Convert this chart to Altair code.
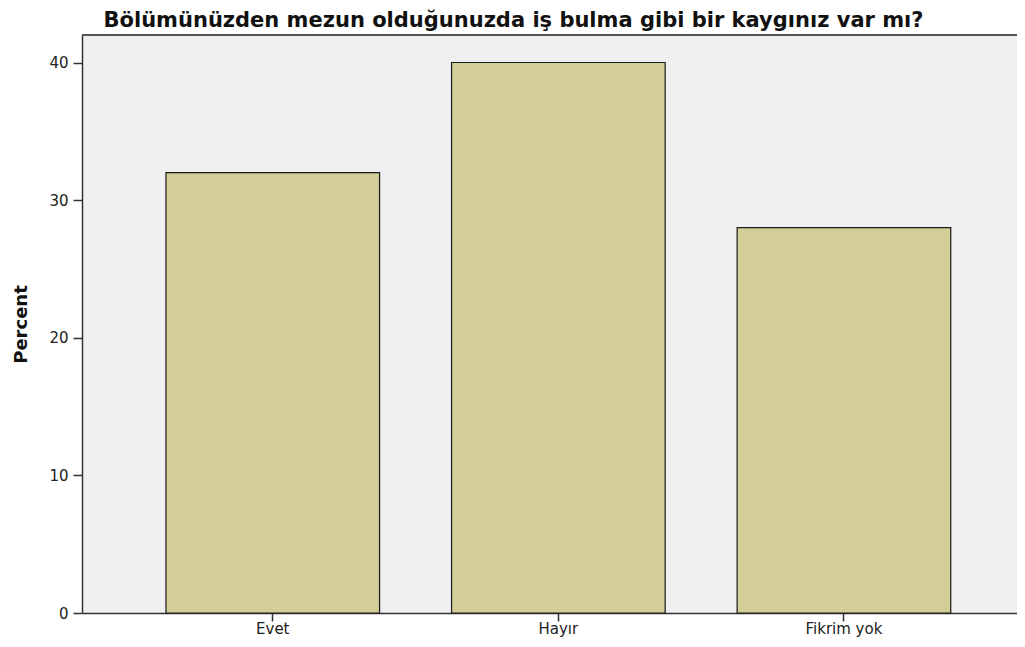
import altair as alt
import pandas as pd

categories = ["Evet", "Hayır", "Fikrim yok"]
percents = [32, 40, 28]
y_ticks = [0, 10, 20, 30, 40]

df = pd.DataFrame({"cat": categories, "pct": percents})

W = 935
H = 578

base = alt.Chart(df)

bars = base.mark_bar(
    color="#D3CE97", stroke="#1a1a1a", strokeWidth=1.2
).encode(
    x=alt.X(
        "cat:N",
        sort=categories,
        scale=alt.Scale(range=[0, 952.7], paddingInner=0.252, paddingOuter=0.294),
        axis=alt.Axis(
            title=None, labelAngle=0, labelFont="DejaVu Sans", labelFontSize=15,
            labelColor="#222222", tickColor="#333333", tickSize=8, tickWidth=1.5,
            domainColor="#333333", domainWidth=1.5, labelPadding=0,
        ),
    ),
    y=alt.Y(
        "pct:Q",
        scale=alt.Scale(domain=[0, 42], nice=False),
        axis=alt.Axis(
            title="Percent", values=y_ticks, grid=False,
            labelFont="DejaVu Sans", labelFontSize=15, labelColor="#222222",
            tickColor="#333333", tickSize=9, tickWidth=1.5,
            domainColor="#333333", domainWidth=1.5, labelPadding=5,
            titleFont="DejaVu Sans", titleFontSize=18, titleFontWeight="bold",
            titleColor="#111111", titlePadding=18,
        ),
    ),
)

top_border = base.mark_rule(color="#555555", strokeWidth=2).encode(
    x=alt.value(0), x2=alt.value(W), y=alt.value(0)
)

chart = alt.layer(bars, top_border).properties(
    width=W,
    height=H,
    autosize=alt.AutoSizeParams(type="none"),
    padding={"left": 74, "top": 27, "right": 0, "bottom": 25},
    title=alt.TitleParams(
        "Bölümünüzden mezun olduğunuzda iş bulma gibi bir kaygınız var mı?",
        font="DejaVu Sans", fontSize=21, fontWeight="bold", color="#111111",
        anchor="middle", dx=-36, offset=3,
    ),
).configure(background="white").configure_view(fill="#F0F0F0", stroke=None)

chart.save("out.html", embed_options={"renderer": "svg", "actions": False})
